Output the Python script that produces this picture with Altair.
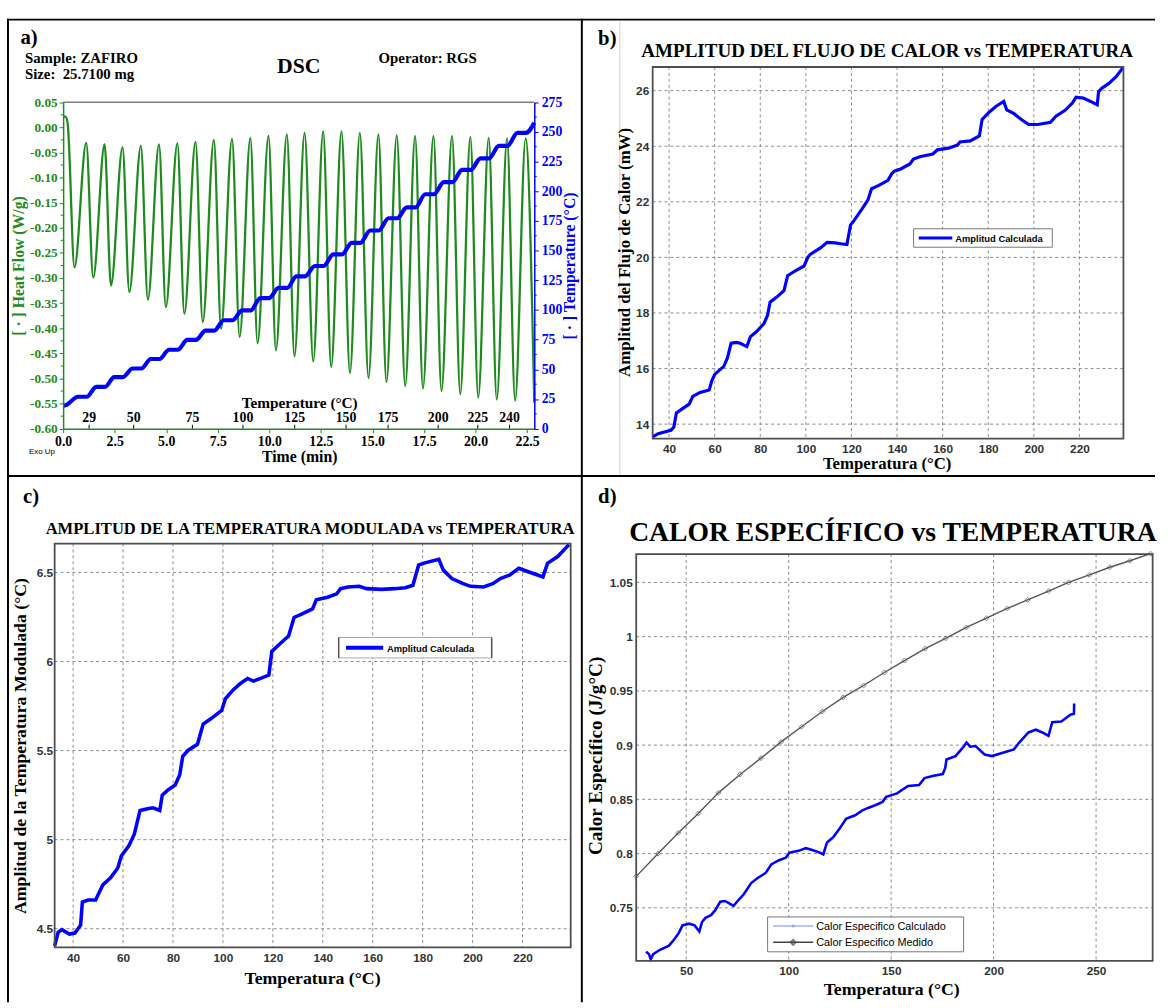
import altair as alt
import pandas as pd

SERIF = "Liberation Serif"
SANS = "Liberation Sans"
GREEN = "#1f8a1f"
BLUE = "#0000ff"
GRID = "#8a8a8a"
FRAME = "#4d4d4d"

# ---------------- panel a : DSC raw signal ----------------
hf_start_time = [0.00, 0.12, 0.22]
hf_start_val = [0.022, 0.021, 0.008]
hf_trough_time = [0.55, 1.46, 2.32, 3.21, 4.11, 4.98, 5.88, 6.77, 7.66, 8.56, 9.43, 10.32, 11.22,
                  12.13, 13.00, 13.91, 14.81, 15.68, 16.59, 17.45, 18.35, 19.26, 20.13, 21.03, 21.92, 22.85]
hf_trough_val = [-0.279, -0.299, -0.315, -0.328, -0.343, -0.358, -0.371, -0.388, -0.401, -0.417, -0.430,
                 -0.444, -0.456, -0.466, -0.477, -0.489, -0.499, -0.507, -0.515, -0.520, -0.525, -0.531,
                 -0.538, -0.542, -0.544, -0.548]
hf_peak_time = [1.12, 2.01, 2.88, 3.77, 4.65, 5.54, 6.42, 7.31, 8.19, 9.08, 9.96, 10.85, 11.71, 12.61,
                13.50, 14.39, 15.29, 16.18, 17.07, 17.96, 18.86, 19.75, 20.64, 21.53, 22.43]
hf_peak_val = [-0.031, -0.034, -0.040, -0.037, -0.034, -0.032, -0.029, -0.025, -0.023, -0.021, -0.017,
               -0.014, -0.011, -0.008, -0.008, -0.011, -0.014, -0.016, -0.017, -0.017, -0.017, -0.019,
               -0.021, -0.022, -0.022]
temp_time = [0.00, 0.12,
             0.72, 1.14, 1.61, 2.03, 2.48, 2.90, 3.37, 3.79, 4.25, 4.67, 5.14, 5.56, 6.02, 6.44,
             6.91, 7.33, 7.79, 8.21, 8.68, 9.10, 9.56, 9.98, 10.45, 10.87, 11.31, 11.73, 12.21, 12.63,
             13.10, 13.52, 13.99, 14.41, 14.89, 15.31, 15.78, 16.20, 16.67, 17.09, 17.56, 17.98,
             18.46, 18.88, 19.35, 19.77, 20.24, 20.66, 21.13, 21.55, 22.03, 22.45, 22.85]
temp_val = [19.5, 19.8,
            26.9, 26.9, 35.2, 35.2, 43.5, 43.5, 50.7, 50.7, 58.7, 58.7, 66.5, 66.5, 74.8, 74.8,
            82.6, 82.6, 91.4, 91.4, 99.7, 99.7, 110.0, 110.0, 118.6, 118.6, 128.3, 128.3, 137.1, 137.1,
            146.8, 146.8, 156.5, 156.5, 167.0, 167.0, 177.3, 177.3, 186.4, 186.4, 197.5, 197.5,
            207.7, 207.7, 218.0, 218.0, 227.7, 227.7, 238.2, 238.2, 249.2, 249.2, 257.6]
time_ticks = [0.0, 2.5, 5.0, 7.5, 10.0, 12.5, 15.0, 17.5, 20.0, 22.5]
hf_ticks = [-0.60, -0.55, -0.50, -0.45, -0.40, -0.35, -0.30, -0.25, -0.20, -0.15, -0.10, -0.05, 0.00, 0.05]
hf_minor = [-0.575, -0.525, -0.475, -0.425, -0.375, -0.325, -0.275, -0.225, -0.175, -0.125, -0.075, -0.025, 0.025]
temp_ticks = [0, 25, 50, 75, 100, 125, 150, 175, 200, 225, 250, 275]
temp_minor = [12.5, 37.5, 62.5, 87.5, 112.5, 137.5, 162.5, 187.5, 212.5, 237.5, 262.5]
temp_axis_time = [1.26, 3.42, 6.27, 8.72, 11.23, 13.72, 15.76, 18.19, 20.11, 21.65]
temp_axis_label = ["29", "50", "75", "100", "125", "150", "175", "200", "225", "240"]

# ---------------- panel b : heat-flow amplitude ----------------
b_T = [32.8, 35.2, 40.8, 42.1, 43.2, 45.6, 48.8, 50.4, 53.6, 57.6, 58.7, 60.0, 64.0, 65.6, 67.2, 69.6,
       71.2, 74.1, 75.7, 78.4, 81.6, 83.2, 84.3, 87.2, 90.4, 92.0, 95.2, 99.2, 100.8, 101.9, 106.4,
       109.3, 112.8, 115.2, 118.0, 119.6, 120.8, 124.8, 127.2, 128.8, 132.0, 136.0, 137.6, 138.8,
       141.6, 145.6, 147.2, 150.4, 155.7, 157.7, 162.5, 166.5, 167.6, 172.1, 176.1, 177.3, 180.1,
       183.3, 186.8, 188.1, 191.3, 194.5, 197.7, 201.7, 207.3, 209.7, 213.7, 216.9, 218.5, 221.7,
       224.9, 227.8, 228.4, 229.7, 232.9, 236.1, 239.0]
b_A = [13.54, 13.66, 13.78, 13.90, 14.40, 14.54, 14.72, 15.00, 15.14, 15.23, 15.55, 15.79, 16.08,
       16.38, 16.91, 16.94, 16.91, 16.79, 17.15, 17.33, 17.62, 17.92, 18.39, 18.57, 18.80, 19.34,
       19.51, 19.69, 19.99, 20.11, 20.34, 20.54, 20.52, 20.49, 20.46, 21.17, 21.29, 21.76, 22.06,
       22.47, 22.59, 22.77, 23.00, 23.10, 23.18, 23.36, 23.54, 23.63, 23.72, 23.87, 23.93, 24.04,
       24.15, 24.19, 24.37, 24.96, 25.20, 25.43, 25.61, 25.31, 25.17, 24.96, 24.78, 24.78, 24.86,
       25.08, 25.29, 25.55, 25.76, 25.73, 25.61, 25.49, 25.96, 26.08, 26.26, 26.50, 26.82]
b_xticks = [40, 60, 80, 100, 120, 140, 160, 180, 200, 220]
b_yticks = [14, 16, 18, 20, 22, 24, 26]

# ---------------- panel c : modulated temperature amplitude ----------------
c_T = [32.6, 34.0, 35.5, 38.5, 40.7, 43.0, 43.7, 46.0, 49.0, 51.9, 54.9, 57.9, 59.3, 62.3, 64.5, 66.8,
       69.8, 72.0, 74.7, 75.7, 77.9, 80.9, 82.7, 83.9, 86.1, 89.8, 92.1, 95.0, 99.5, 101.0, 104.0,
       107.0, 109.9, 112.2, 115.1, 118.4, 119.6, 123.3, 126.3, 128.5, 131.5, 135.9, 137.4, 141.9,
       145.6, 147.1, 150.1, 154.6, 157.5, 163.5, 168.7, 173.1, 176.1, 178.4, 181.3, 186.5, 188.3,
       191.7, 196.2, 199.2, 204.4, 208.1, 211.1, 214.8, 218.5, 222.3, 228.2, 230.0, 234.1, 238.6]
c_A = [4.404, 4.480, 4.495, 4.470, 4.476, 4.520, 4.650, 4.661, 4.661, 4.746, 4.784, 4.841, 4.908,
       4.965, 5.031, 5.164, 5.174, 5.179, 5.164, 5.250, 5.278, 5.307, 5.364, 5.468, 5.502, 5.535,
       5.649, 5.677, 5.725, 5.791, 5.839, 5.877, 5.905, 5.890, 5.905, 5.924, 6.057, 6.105, 6.143,
       6.247, 6.266, 6.295, 6.346, 6.361, 6.380, 6.409, 6.418, 6.422, 6.409, 6.405, 6.409, 6.414,
       6.428, 6.542, 6.555, 6.574, 6.513, 6.466, 6.437, 6.422, 6.418, 6.437, 6.466, 6.485, 6.523,
       6.504, 6.475, 6.551, 6.589, 6.656]
c_xticks = [40, 60, 80, 100, 120, 140, 160, 180, 200, 220]
c_yticks = [4.5, 5.0, 5.5, 6.0, 6.5]

# ---------------- panel d : specific heat ----------------
d_T = [30.4, 31.8, 32.7, 33.9, 37.2, 41.6, 44.3, 46.4, 48.2, 51.4, 54.1, 56.4, 57.7, 59.4, 62.1, 64.2,
       66.6, 68.9, 71.0, 73.1, 75.5, 78.1, 81.7, 84.9, 88.8, 91.5, 95.0, 98.6, 100.4, 104.8, 108.4,
       111.9, 115.2, 116.9, 118.7, 121.7, 125.3, 128.0, 132.4, 136.0, 138.7, 142.2, 145.8, 147.6,
       152.9, 156.5, 158.3, 163.6, 166.3, 170.7, 175.2, 176.4, 177.0, 181.4, 185.0, 186.8, 188.5,
       191.2, 195.6, 199.2, 204.5, 209.9, 212.5, 217.0, 220.6, 223.8, 226.8, 228.6, 233.0, 237.5,
       239.2, 239.3]
d_calc = [0.7095, 0.7073, 0.7026, 0.7073, 0.7113, 0.7151, 0.7213, 0.7269, 0.7338, 0.7354, 0.7338,
          0.7282, 0.7369, 0.7407, 0.7432, 0.7478, 0.7557, 0.7563, 0.7541, 0.7519, 0.7572, 0.7625,
          0.7728, 0.7775, 0.7822, 0.7900, 0.7937, 0.7962, 0.8009, 0.8025, 0.8050, 0.8031, 0.8009,
          0.7993, 0.8103, 0.8150, 0.8243, 0.8321, 0.8353, 0.8399, 0.8421, 0.8446, 0.8477, 0.8524,
          0.8555, 0.8602, 0.8624, 0.8633, 0.8696, 0.8718, 0.8733, 0.8789, 0.8868, 0.8899, 0.8977,
          0.9024, 0.8986, 0.8992, 0.8914, 0.8899, 0.8930, 0.8961, 0.9024, 0.9117, 0.9142, 0.9117,
          0.9086, 0.9211, 0.9217, 0.9280, 0.9289, 0.9383]
m_T = [25.6, 36.3, 46.1, 55.9, 65.7, 76.3, 86.5, 96.3, 106.3, 116.4, 126.6, 136.5, 146.7, 156.5,
       166.6, 176.6, 186.7, 196.5, 206.7, 216.6, 226.8, 236.6, 246.7, 256.7, 266.5, 276.6]
m_cp = [0.779, 0.800, 0.819, 0.837, 0.856, 0.873, 0.888, 0.903, 0.917, 0.931, 0.944, 0.955, 0.967,
        0.978, 0.989, 0.9985, 1.0085, 1.017, 1.026, 1.034, 1.042, 1.050, 1.057, 1.064, 1.070, 1.0765]
d_xticks = [50, 100, 150, 200, 250]
d_yticks = [0.75, 0.8, 0.85, 0.9, 0.95, 1.0, 1.05]

# ---------------- helpers ----------------
one = pd.DataFrame({"k": [0]})


def text_at(s, x, y, size, font=SERIF, weight="bold", color="black", align="left",
            baseline="alphabetic", angle=None):
    kw = dict(text=s, font=font, fontSize=size, fontWeight=weight, color=color,
              align=align, baseline=baseline)
    if angle is not None:
        kw["angle"] = angle
    return alt.Chart(one).mark_text(**kw).encode(x=alt.value(x), y=alt.value(y))


def box(x, x2, y, y2, **mk):
    return alt.Chart(one).mark_rect(**mk).encode(
        x=alt.value(x), x2=alt.value(x2), y=alt.value(y), y2=alt.value(y2))


def seg(x, x2, y, y2, **mk):
    return alt.Chart(one).mark_rule(**mk).encode(
        x=alt.value(x), x2=alt.value(x2), y=alt.value(y), y2=alt.value(y2))


def matlab_axes(xscale, yscale, xticks, yticks, x0, x1, y0, y1, yfmt, yoff, ypad):
    ax_x = alt.Axis(values=xticks, format="d", title=None, domain=False, ticks=False,
                    labelFont=SANS, labelFontWeight="bold", labelFontSize=12, labelColor="#333333",
                    labelPadding=5, labelFlush=False, labelOverlap=False, grid=False)
    ax_y = alt.Axis(values=yticks, format=yfmt, title=None, domain=False, ticks=False,
                    labelFont=SANS, labelFontWeight="bold", labelFontSize=12, labelColor="#333333",
                    labelPadding=ypad, labelOverlap=False, grid=False, offset=yoff)
    gx = alt.Chart(pd.DataFrame({"g": xticks})).mark_rule(
        color=GRID, strokeDash=[3, 3], strokeWidth=1).encode(
        x=alt.X("g:Q", scale=xscale, axis=ax_x), y=alt.value(y0), y2=alt.value(y1))
    gy = alt.Chart(pd.DataFrame({"g": yticks})).mark_rule(
        color=GRID, strokeDash=[3, 3], strokeWidth=1).encode(
        y=alt.Y("g:Q", scale=yscale, axis=ax_y), x=alt.value(x0), x2=alt.value(x1))
    frame = box(x0, x1, y0, y1, fillOpacity=0, stroke=FRAME, strokeWidth=1.8)
    return ax_x, ax_y, gx, gy, frame


# ================= PANEL A =================
AW, AH, AT = 477.6, 366.7, 35.7
xa = alt.Scale(domain=[0, 22.85], range=[0, AW], nice=False, zero=False)
ya1 = alt.Scale(domain=[-0.60, 0.05], range=[AH, AT], nice=False, zero=False)
ya2 = alt.Scale(domain=[0, 275], range=[AH, AT], nice=False, zero=False)

ax_time = alt.Axis(values=time_ticks, format=".1f", title=None, labelFont=SERIF, labelFontWeight="bold",
                   labelFontSize=14, labelColor="black", labelPadding=2, labelFlush=False,
                   labelOverlap=False, domainColor=GREEN, domainWidth=1.5, tickColor=GREEN,
                   tickSize=4, grid=False, zindex=1)
ax_hf = alt.Axis(orient="left", values=hf_ticks, title=None,
                 labelExpr="datum.value < -0.0001 ? '-' + format(-datum.value, '.2f') : format(datum.value, '.2f')",
                 labelFont=SERIF, labelFontWeight="bold", labelFontSize=13.5, labelColor=GREEN,
                 labelPadding=2, labelOverlap=False, domainColor=GREEN, domainWidth=1.5,
                 tickColor=GREEN, tickSize=4, grid=False, zindex=1)
ax_temp = alt.Axis(orient="right", values=temp_ticks, format="d", title=None,
                   labelFont=SERIF, labelFontWeight="bold", labelFontSize=14, labelColor=BLUE,
                   labelPadding=3, labelOverlap=False, domainColor=BLUE, domainWidth=1.5,
                   tickColor=BLUE, tickSize=4, grid=False, zindex=1)

hf_df = pd.concat([
    pd.DataFrame({"t": hf_start_time, "v": hf_start_val}),
    pd.DataFrame({"t": hf_trough_time, "v": hf_trough_val}),
    pd.DataFrame({"t": hf_peak_time, "v": hf_peak_val}),
]).sort_values("t").reset_index(drop=True)
temp_df = pd.DataFrame({"t": temp_time, "v": temp_val})
tt_df = pd.DataFrame({"t": temp_axis_time, "lab": temp_axis_label})

a_hf = alt.Chart(hf_df).mark_line(color=GREEN, strokeWidth=2.3, interpolate="monotone").encode(
    x=alt.X("t:Q", scale=xa, axis=ax_time), y=alt.Y("v:Q", scale=ya1, axis=ax_hf))
a_temp = alt.Chart(temp_df).mark_line(color=BLUE, strokeWidth=4.2, interpolate="monotone").encode(
    x=alt.X("t:Q", scale=xa, axis=ax_time), y=alt.Y("v:Q", scale=ya2, axis=ax_temp))
a_minor_l = alt.Chart(pd.DataFrame({"v": hf_minor})).mark_rule(color=GREEN).encode(
    y=alt.Y("v:Q", scale=ya1, axis=None), x=alt.value(0), x2=alt.value(-2.5))
a_minor_r = alt.Chart(pd.DataFrame({"v": temp_minor})).mark_rule(color=BLUE).encode(
    y=alt.Y("v:Q", scale=ya2, axis=None), x=alt.value(AW), x2=alt.value(AW + 2.5))
a_tticks = alt.Chart(tt_df).mark_rule(color="black").encode(
    x=alt.X("t:Q", scale=xa, axis=ax_time), y=alt.value(AH - 4), y2=alt.value(AH))
a_tlabels = alt.Chart(tt_df).mark_text(font=SERIF, fontWeight="bold", fontSize=14,
                                        baseline="alphabetic", color="black").encode(
    x=alt.X("t:Q", scale=xa, axis=ax_time), y=alt.value(359.5), text="lab:N")

panel_a = alt.layer(
    # page background covering exactly 1170x1008 (abs coords minus cell origin 63.2, 60)
    box(-63.2, 1106.8, -60, 948, color="white"),
    # figure frame (black borders / dividers)
    box(-56.9, -54.9, -49, 948, color="black"),
    box(-56.9, 1106.8, -49, -47, color="black"),
    box(524.8, 526.8, -49, 948, color="black"),
    box(-56.9, 1106.8, 413.7, 415.7, color="black"),
    seg(0, AW, AT, AT, color="#808080", strokeWidth=1.5),
    a_hf, a_temp, a_minor_l, a_minor_r, a_tticks, a_tlabels,
    text_at("a)", -43.2, -23, 21),
    text_at("Sample: ZAFIRO", -38.7, -4, 15),
    text_at("Size:\u00a0 25.7100 mg", -38.7, 12, 15),
    text_at("DSC", 216.8, 6, 22),
    text_at("Operator: RGS", 319.8, -4, 15),
    text_at("Temperature (°C)", 239.8, 346, 15.5, align="center"),
    text_at("Time (min)", 239.8, 400, 16, align="center"),
    text_at("Exo Up", -34.6, 392.7, 8, font=SANS, weight="normal"),
    text_at("[ · ] Heat Flow (W/g)", -44.2, 201.7, 16, color=GREEN, align="center",
            baseline="middle", angle=270),
    text_at("[ · ] Temperature (°C)", 514.3, 201.7, 16, color=BLUE, align="center",
            baseline="middle", angle=270),
).resolve_scale(y="independent").properties(width=AW, height=AH)

# ================= PANEL B =================
BW, BH = 477.2, 376.7
xb = alt.Scale(domain=[32.8, 239.3], nice=False, zero=False)
yb = alt.Scale(domain=[13.48, 26.85], nice=False, zero=False)
axb_x, axb_y, gbx, gby, frb = matlab_axes(xb, yb, b_xticks, b_yticks, 0, BW, 0, BH, "d", 0, 4)
b_line = alt.Chart(pd.DataFrame({"T": b_T, "A": b_A})).mark_line(color=BLUE, strokeWidth=3.2).encode(
    x=alt.X("T:Q", scale=xb, axis=axb_x), y=alt.Y("A:Q", scale=yb, axis=axb_y))
panel_b = alt.layer(
    gbx, gby, b_line, frb,
    seg(-33.3, -33.3, -47, 413.7, color="#d0d0d0", strokeWidth=1),
    box(264.5, 405.1, 164, 182.7, color="white", stroke="#777777", strokeWidth=1),
    seg(269.7, 303.7, 173.3, 173.3, color=BLUE, strokeWidth=3),
    text_at("Amplitud Calculada", 306.7, 177, 9.5, font=SANS),
    text_at("b)", -55.3, -22, 21),
    text_at("AMPLITUD DEL FLUJO DE CALOR vs TEMPERATURA", 237.7, -10, 19.3, align="center"),
    text_at("Amplitud del Flujo de Calor (mW)", -28.3, 188, 17, align="center",
            baseline="middle", angle=270),
    text_at("Temperatura (°C)", 237.7, 408, 17, align="center"),
).properties(width=BW, height=BH)

# ================= PANEL C =================
CW, CH, CX0 = 514.5, 409.4, -8.6
xc = alt.Scale(domain=[32.6, 239.3], range=[CX0, CW], nice=False, zero=False)
yc = alt.Scale(domain=[4.395, 6.662], nice=False, zero=False)
axc_x, axc_y, gcx, gcy, frc = matlab_axes(xc, yc, c_xticks, c_yticks, CX0, CW, 0, CH, "~g", 8.6, 2)
c_line = alt.Chart(pd.DataFrame({"T": c_T, "A": c_A})).mark_line(color=BLUE, strokeWidth=3.6).encode(
    x=alt.X("T:Q", scale=xc, axis=axc_x), y=alt.Y("A:Q", scale=yc, axis=axc_y))
panel_c = alt.layer(
    gcx, gcy, c_line, frc,
    box(279.3, 434.4, 95.2, 115.9, color="white", stroke="#aaaaaa", strokeWidth=1),
    seg(279.3, 279.3, 95.2, 115.9, color="#555555", strokeWidth=1.5),
    seg(434.4, 434.4, 95.2, 115.9, color="#555555", strokeWidth=1.5),
    seg(286.8, 324.4, 105.7, 105.7, color=BLUE, strokeWidth=4),
    text_at("Amplitud Calculada", 328.2, 109.7, 9.5, font=SANS),
    text_at("c)", -40.6, -40.8, 21),
    text_at("AMPLITUD DE LA TEMPERATURA MODULADA vs TEMPERATURA", 250.3, -9.3, 16.8, align="center"),
    text_at("Amplitud de la Temperatura Modulada (°C)", -42.5, 205.2, 18, align="center",
            baseline="middle", angle=270),
    text_at("Temperatura (°C)", 252.8, 446.2, 18, align="center"),
).properties(width=CW, height=CH)

# ================= PANEL D =================
DW, DH, DX0, DY0 = 506.8, 423.1, -16.7, 10.6
xd = alt.Scale(domain=[25.6, 277.6], range=[DX0, DW], nice=False, zero=False)
yd = alt.Scale(domain=[0.701, 1.0762], range=[DH, DY0], nice=False, zero=False)
axd_x, axd_y, gdx, gdy, frd = matlab_axes(xd, yd, d_xticks, d_yticks, DX0, DW, DY0, DH, "~g", 16.7, 4)
meas_df = pd.DataFrame({"T": m_T, "C": m_cp})
calc_df = pd.DataFrame({"T": d_T, "C": d_calc, "i": list(range(len(d_T)))})
d_meas_line = alt.Chart(meas_df).mark_line(color="#555555", strokeWidth=1.4).encode(
    x=alt.X("T:Q", scale=xd, axis=axd_x), y=alt.Y("C:Q", scale=yd, axis=axd_y))
d_meas_pts = alt.Chart(meas_df).mark_point(shape="diamond", filled=False, size=26, color="#555555",
                                           strokeWidth=1).encode(
    x=alt.X("T:Q", scale=xd, axis=axd_x), y=alt.Y("C:Q", scale=yd, axis=axd_y))
d_calc_line = alt.Chart(calc_df).mark_line(color=BLUE, strokeWidth=2.6).encode(
    x=alt.X("T:Q", scale=xd, axis=axd_x), y=alt.Y("C:Q", scale=yd, axis=axd_y),
    order="i:Q")
panel_d = alt.layer(
    gdx, gdy, d_meas_line, d_meas_pts, d_calc_line, frd,
    box(116.5, 315.2, 378.5, 413.8, color="white", stroke="#777777", strokeWidth=1),
    seg(122.1, 162.7, 387.7, 387.7, color="#9fb0ff", strokeWidth=1.5),
    alt.Chart(one).mark_point(shape="circle", filled=True, size=10, color="#7f8fff").encode(
        x=alt.value(142.4), y=alt.value(387.7)),
    text_at("Calor Especifico Calculado", 165.7, 391.7, 11, font=SANS, weight="normal"),
    seg(122.1, 162.7, 404.2, 404.2, color="#444444", strokeWidth=1.5),
    alt.Chart(one).mark_point(shape="diamond", filled=False, size=26, color="#444444").encode(
        x=alt.value(142.4), y=alt.value(404.2)),
    text_at("Calor Especifico Medido", 165.7, 408.2, 11, font=SANS, weight="normal"),
    text_at("d)", -55.3, -40.8, 21),
    text_at("CALOR ESPECÍFICO vs TEMPERATURA", 243.5, -2.5, 28, align="center"),
    text_at("Calor Específico (J/g°C)", -57.3, 215.2, 19.5, align="center",
            baseline="middle", angle=270),
    text_at("Temperatura (°C)", 242.3, 457.2, 18, align="center"),
).properties(width=DW, height=DH)

chart = alt.concat(
    panel_a, panel_b, panel_c, panel_d,
    columns=2,
    spacing={"row": 106.1, "column": 82.6},
    bounds="flush",
).properties(
    padding=0,
    background="white",
).configure_view(stroke="transparent")

chart.save("out.html", embed_options={"renderer": "svg", "actions": False})
